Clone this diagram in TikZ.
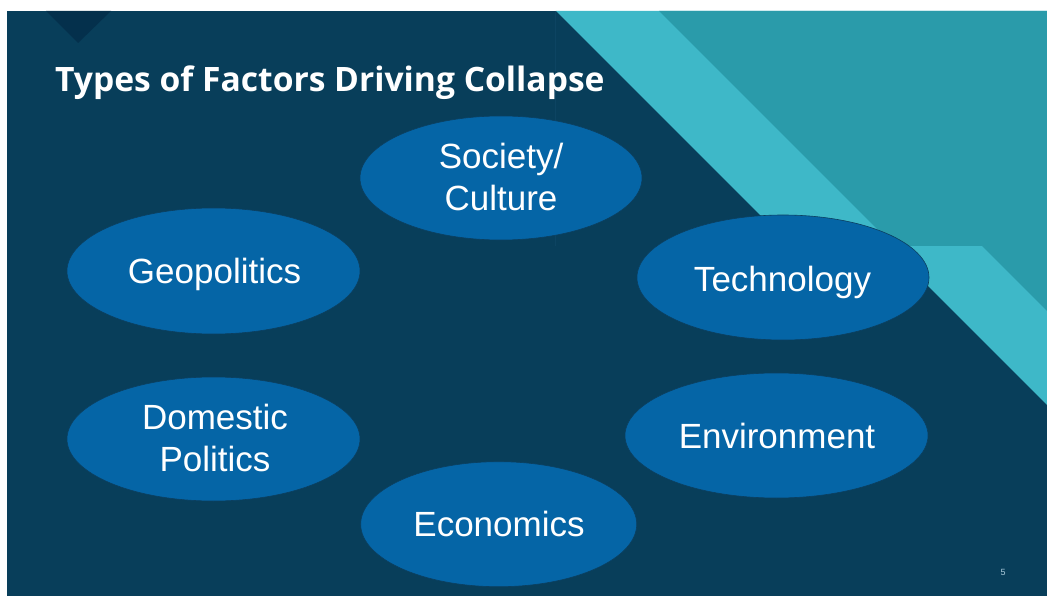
\documentclass[tikz,border=0pt]{standalone}
\usepackage{fontspec}
\setmainfont{Liberation Sans}
\newfontfamily\titlefont{Open Sans}
\usetikzlibrary{shapes.geometric}
\definecolor{bgdark}{HTML}{083E5A}
\definecolor{notchc}{HTML}{04304C}
\definecolor{lightcyan}{HTML}{3EB8C8}
\definecolor{tealc}{HTML}{2A9BAA}
\definecolor{blobc}{HTML}{0565A6}
\definecolor{blobline}{HTML}{0B3F60}
\definecolor{pagenum}{HTML}{A9C9DA}
\definecolor{faintline}{HTML}{0D4462}
\tikzset{
  blob/.style={ellipse, fill=blobc, draw=blobline, line width=0.6pt, inner sep=0pt},
  lab/.style={text=white, font=\fontsize{35}{42}\selectfont, align=center, inner sep=0pt},
}
\begin{document}
\begin{tikzpicture}[x=1pt,y=-1pt]
\useasboundingbox (0,0) rectangle (1047,596);
\fill[white] (0,0) rectangle (1047,596);
\fill[bgdark] (7,11) rectangle (1047,596);
\fill[notchc] (46,11) -- (111,11) -- (78,43) -- cycle;
\draw[faintline, line width=0.5pt] (555,11) -- (555,246);
\fill[lightcyan] (556,11) -- (1047,11) -- (1047,405) -- (888,246) -- (791,246) -- cycle;
\fill[tealc] (659,11) -- (1047,11) -- (1047,311) -- (982,246) -- (894,246) -- cycle;

\node[anchor=base west, inner sep=0pt, text=white, font=\titlefont\bfseries\fontsize{33.6}{40}\selectfont] (title) at (55,92) {Types of Factors Driving Collapse};

\node[blob, minimum width=282pt, minimum height=124pt] (soc) at (501,178) {};
\node[blob, minimum width=293pt, minimum height=126pt] (geo) at (213.5,271) {};
\node[blob, minimum width=292pt, minimum height=125pt] (tech) at (783,277.5) {};
\node[blob, minimum width=293pt, minimum height=124pt] (dom) at (213.5,439) {};
\node[blob, minimum width=303pt, minimum height=125pt] (env) at (776.5,435.5) {};
\node[blob, minimum width=276pt, minimum height=125pt] (eco) at (498.7,524.2) {};

\node[lab, anchor=base] (soct) at (501,211) {Society/\\Culture};
\node[lab, anchor=base] (geot) at (214.5,283.3) {Geopolitics};
\node[lab, anchor=base] (techt) at (782.5,291) {Technology};
\node[lab, anchor=base] (domt) at (215,471.7) {Domestic\\Politics};
\node[lab, anchor=base] (envt) at (777,448.3) {Environment};
\node[lab, anchor=base] (ecot) at (499,536.7) {Economics};

\node[inner sep=0pt, text=pagenum, font=\fontsize{9}{10}\selectfont] (pg) at (1003,572) {5};
\end{tikzpicture}
\end{document}
